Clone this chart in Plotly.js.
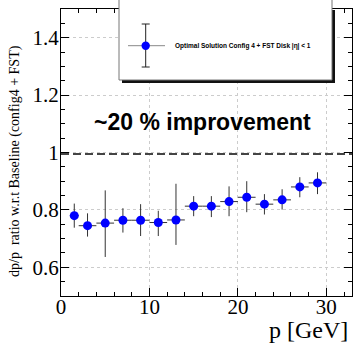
<!DOCTYPE html>
<html>
<head>
<meta charset="utf-8">
<script src="https://cdn.plot.ly/plotly-3.0.1.min.js"></script>
<style>html,body{margin:0;padding:0;background:#fff;}#chart{width:355px;height:349px;}</style>
</head>
<body>
<div id="chart"></div>
<script>
// Data
var p        = [1.5, 3, 5, 7, 9, 11, 13, 15, 17, 19, 21, 23, 25, 27, 29];
var pErr     = [0.5, 1, 1, 1, 1, 1, 1, 1, 1, 1, 1, 1, 1, 1, 1];
var ratio    = [0.780, 0.745, 0.754, 0.764, 0.764, 0.756, 0.765, 0.813, 0.813, 0.829, 0.844, 0.820, 0.835, 0.880, 0.894];
var errUp    = [0.042, 0.043, 0.114, 0.042, 0.056, 0.041, 0.126, 0.035, 0.035, 0.053, 0.056, 0.035, 0.037, 0.034, 0.037];
var errDown  = [0.042, 0.038, 0.118, 0.043, 0.055, 0.047, 0.087, 0.035, 0.038, 0.051, 0.052, 0.036, 0.034, 0.036, 0.039];
var baseline = 0.995;
var legendText = "Optimal Solution Config 4 + FST Disk |η| < 1";
var noteText = "~20 % improvement";
var xTitle = "p [GeV]";
var yTitle = "dp/p  ratio w.r.t Baseline (config4 + FST)";

var serif = "Liberation Serif";
var sansB = "Liberation Sans";

var trace = {
  x: p, y: ratio, type: 'scatter', mode: 'markers',
  marker: {color: '#0000ff', size: 9},
  error_y: {type: 'data', symmetric: false, array: errUp, arrayminus: errDown, width: 0, thickness: 1, color: '#333'},
  error_x: {type: 'data', array: pErr, width: 0, thickness: 1, color: '#333'},
  showlegend: false, hoverinfo: 'none'
};

var W = 355, H = 349, mL = 61, mR = 3, mT = 9, mB = 53;
var pw = W - mL - mR, ph = H - mT - mB;
function px(x){ return (x - mL) / pw; }
function py(y){ return 1 - (y - mT) / ph; }

var layout = {
  width: W, height: H,
  margin: {l: mL, r: mR, t: mT, b: mB, pad: 0},
  paper_bgcolor: '#fff', plot_bgcolor: '#fff',
  showlegend: false,
  xaxis: {
    range: [0, 32.9], tick0: 0, dtick: 10,
    ticks: 'inside', ticklen: 8, tickwidth: 1, tickcolor: '#000',
    showline: true, linecolor: '#000', linewidth: 1, mirror: 'ticks',
    showgrid: true, gridcolor: '#cccccc', griddash: 'dot', gridwidth: 1,
    zeroline: false,
    tickfont: {family: serif, size: 21, color: '#000'},
    ticklabelstandoff: -8,
    minor: {dtick: 2, ticks: 'inside', ticklen: 4, tickcolor: '#000', showgrid: false}
  },
  yaxis: {
    range: [0.5, 1.5], tick0: 0, dtick: 0.2,
    ticks: 'inside', ticklen: 8, tickwidth: 1, tickcolor: '#000',
    showline: true, linecolor: '#000', linewidth: 1, mirror: 'ticks',
    showgrid: true, gridcolor: '#cccccc', griddash: 'dot', gridwidth: 1,
    zeroline: false,
    tickfont: {family: serif, size: 21, color: '#000'},
    ticklabelstandoff: -3,
    minor: {dtick: 0.05, ticks: 'inside', ticklen: 4, tickcolor: '#000', showgrid: false}
  },
  shapes: [
    {type: 'line', xref: 'paper', yref: 'y', x0: 0, x1: 1, y0: baseline, y1: baseline,
     line: {color: '#444', width: 2, dash: '8px,4px'}},
    // legend shadow
    {type: 'rect', xref: 'paper', yref: 'paper', x0: px(122), x1: px(335), y0: py(83), y1: py(10),
     fillcolor: '#111', line: {width: 0}},
    // legend box
    {type: 'rect', xref: 'paper', yref: 'paper', x0: px(119), x1: px(332), y0: py(80), y1: py(-5),
     fillcolor: '#fff', line: {color: '#777', width: 1}},
    // legend sample
    {type: 'line', xref: 'paper', yref: 'paper', x0: px(128), x1: px(165), y0: py(45.7), y1: py(45.7),
     line: {color: '#888', width: 1}},
    {type: 'line', xref: 'paper', yref: 'paper', x0: px(145.7), x1: px(145.7), y0: py(24), y1: py(67),
     line: {color: '#222', width: 1}},
    {type: 'line', xref: 'paper', yref: 'paper', x0: px(141.7), x1: px(149.7), y0: py(24), y1: py(24),
     line: {color: '#222', width: 1}},
    {type: 'line', xref: 'paper', yref: 'paper', x0: px(141.7), x1: px(149.7), y0: py(67), y1: py(67),
     line: {color: '#222', width: 1}},
    {type: 'circle', xref: 'paper', yref: 'paper', x0: px(141.5), x1: px(149.9), y0: py(41.5), y1: py(49.9),
     fillcolor: '#0000ff', line: {color: '#0000ff', width: 0}}
  ],
  annotations: [
    {text: '<b>' + legendText + '</b>', xref: 'paper', yref: 'paper', x: px(172.5), y: py(45.7), xanchor: 'left', yanchor: 'middle',
     showarrow: false, font: {family: sansB, size: 6.5, color: '#000'}},
    {text: '<b>' + noteText + '</b>', xref: 'paper', yref: 'paper', x: px(202.5), y: py(122), xanchor: 'center', yanchor: 'middle',
     showarrow: false, font: {family: sansB, size: 23, color: '#000'}},
    {text: xTitle, xref: 'paper', yref: 'paper', x: px(350), y: py(330), xanchor: 'right', yanchor: 'middle',
     showarrow: false, font: {family: serif, size: 24, color: '#000'}},
    {text: yTitle, xref: 'paper', yref: 'paper', x: px(15), y: py(161), xanchor: 'center', yanchor: 'middle',
     textangle: -90, showarrow: false, font: {family: serif, size: 14, color: '#000'}}
  ]
};

Plotly.newPlot('chart', [trace], layout, {staticPlot: true, displayModeBar: false});
</script>
</body>
</html>
